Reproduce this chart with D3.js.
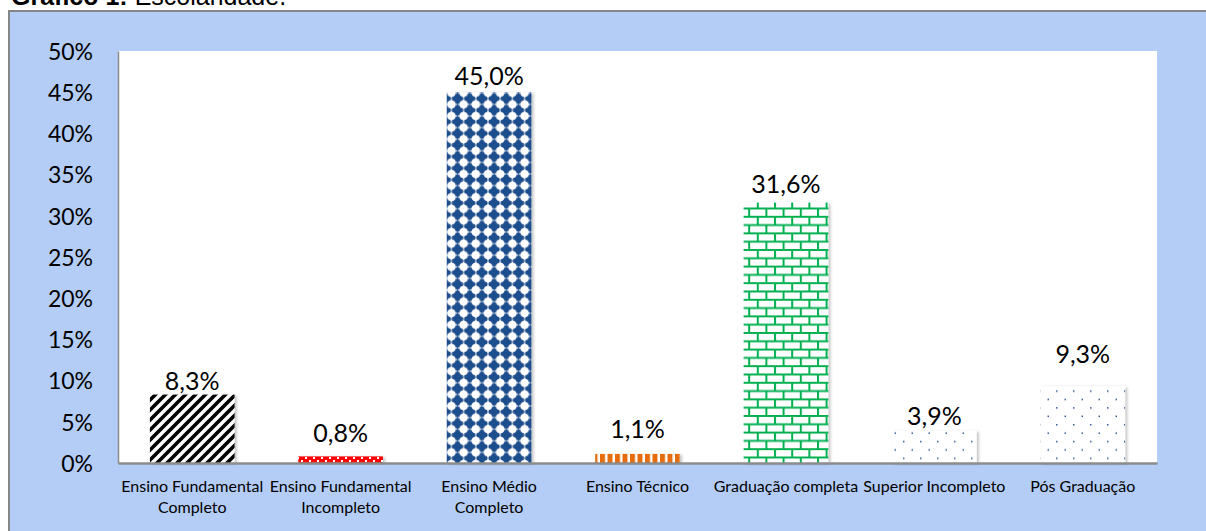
<!DOCTYPE html>
<html><head><meta charset="utf-8">
<script src="https://cdn.jsdelivr.net/npm/d3@7"></script>
<style>
html,body{margin:0;padding:0;background:#fff;}
svg{display:block;}
</style></head>
<body>
<svg id="chart" width="1206" height="531"></svg>
<script>
const titleBold = "Gráfico 1:";
const titleRest = " Escolaridade.";
const categories = ["Ensino Fundamental Completo","Ensino Fundamental Incompleto","Ensino Médio Completo","Ensino Técnico","Graduação completa","Superior Incompleto","Pós Graduação"];
const values = [8.3, 0.8, 45.0, 1.1, 31.6, 3.9, 9.3];
const valueLabels = ["8,3%","0,8%","45,0%","1,1%","31,6%","3,9%","9,3%"];
const yTicks = [0,5,10,15,20,25,30,35,40,45,50];
const patternIds = ["pStripe","pRed","pBlue","pOrange","pBrick","pDots","pDots"];
// layout: gap (px) between each bar top and its label baseline, as placed in the original
const labelGap = [5,14,7,16,10,6,23];

const svg = d3.select("#chart");
const W = 1206, H = 531;
const plot = {left:118, right:1157, top:51, bottom:463};
const bg = "#b4cdf7";
const font = "Lato, 'Open Sans', sans-serif";

svg.append("rect").attr("x",0).attr("y",0).attr("width",W).attr("height",H).attr("fill","#fff");
svg.append("rect").attr("x",9).attr("y",11).attr("width",W).attr("height",H).attr("fill",bg)
  .attr("stroke","#878787").attr("stroke-width",2);

const title = svg.append("text").attr("x",11).attr("y",5).attr("font-family","'Liberation Sans', Arial, sans-serif")
  .attr("font-size",25).attr("fill","#000");
title.append("tspan").attr("font-weight","bold").text(titleBold);
title.append("tspan").text(titleRest);

const defs = svg.append("defs");
const shadow = defs.append("filter").attr("id","shadow").attr("x","-10%").attr("y","-10%").attr("width","130%").attr("height","130%");
shadow.append("feDropShadow").attr("dx",2).attr("dy",1).attr("stdDeviation",1.5).attr("flood-color","#000").attr("flood-opacity",0.25);

let p = defs.append("pattern").attr("id","pStripe").attr("patternUnits","userSpaceOnUse").attr("width",10).attr("height",10);
p.append("rect").attr("width",10).attr("height",10).attr("fill","#fff");
p.append("path").attr("d","M-5,5 L5,-5 M0,10 L10,0 M5,15 L15,5").attr("stroke","#000").attr("stroke-width",3.6);

p = defs.append("pattern").attr("id","pRed").attr("patternUnits","userSpaceOnUse").attr("width",8).attr("height",6);
p.append("rect").attr("width",8).attr("height",6).attr("fill","#ff0000");
p.append("rect").attr("x",1).attr("y",1).attr("width",2).attr("height",2).attr("fill","#fff");
p.append("rect").attr("x",5).attr("y",4).attr("width",2).attr("height",2).attr("fill","#fff");

p = defs.append("pattern").attr("id","pBlue").attr("patternUnits","userSpaceOnUse").attr("width",12.2).attr("height",11.6);
p.append("rect").attr("width",12.2).attr("height",11.6).attr("fill","#fff");
p.append("path").attr("d","M6.1,0 L12.2,5.8 L6.1,11.6 L0,5.8 Z").attr("fill","#1f4e8c");
p.append("rect").attr("x",4.1).attr("y",0.6).attr("width",4).attr("height",10.4).attr("fill","#1f4e8c");
p.append("rect").attr("x",0.8).attr("y",3.8).attr("width",10.6).attr("height",4).attr("fill","#1f4e8c");

p = defs.append("pattern").attr("id","pOrange").attr("patternUnits","userSpaceOnUse").attr("width",7.5).attr("height",10);
p.append("rect").attr("width",7.5).attr("height",10).attr("fill","#fff");
p.append("rect").attr("x",0).attr("width",5).attr("height",10).attr("fill","#e46c0a");

p = defs.append("pattern").attr("id","pBrick").attr("patternUnits","userSpaceOnUse").attr("width",17.2).attr("height",16.6);
p.append("rect").attr("width",17.2).attr("height",16.6).attr("fill","#fff");
p.append("path").attr("d","M0,1 H17.2 M0,9.3 H17.2 M1,1 V9.3 M9.6,9.3 V16.6")
  .attr("stroke","#00b050").attr("stroke-width",2).attr("fill","none");

p = defs.append("pattern").attr("id","pDots").attr("patternUnits","userSpaceOnUse").attr("width",17).attr("height",16.8);
p.append("rect").attr("width",17).attr("height",16.8).attr("fill","#fff");
p.append("rect").attr("x",2).attr("y",4).attr("width",1.5).attr("height",1.5).attr("fill","#2f5597");
p.append("rect").attr("x",10.5).attr("y",12.4).attr("width",1.5).attr("height",1.5).attr("fill","#2f5597");

svg.append("rect").attr("x",plot.left).attr("y",plot.top).attr("width",plot.right-plot.left)
  .attr("height",plot.bottom-plot.top).attr("fill","#fff");

const x = d3.scaleBand().domain(categories).range([plot.left,plot.right]).paddingInner(0.43).paddingOuter(0.215);
const y = d3.scaleLinear().domain([0,50]).range([plot.bottom,plot.top]);

svg.append("g").selectAll("rect").data(categories).join("rect")
  .attr("x",d=>x(d)).attr("width",x.bandwidth())
  .attr("y",(d,i)=>y(values[i])).attr("height",(d,i)=>y(0)-y(values[i]))
  .attr("fill",(d,i)=>`url(#${patternIds[i]})`).attr("filter","url(#shadow)");

svg.append("g").selectAll("text").data(categories).join("text")
  .attr("x",d=>x(d)+x.bandwidth()/2).attr("y",(d,i)=>y(values[i])-labelGap[i])
  .attr("text-anchor","middle").attr("font-family",font).attr("font-size",25).attr("fill","#000")
  .text((d,i)=>valueLabels[i]);

const yAxis = d3.axisLeft(y).tickValues(yTicks).tickSize(0).tickPadding(25).tickFormat(d=>d+"%");
const gy = svg.append("g").attr("transform",`translate(${plot.left},0)`).call(yAxis);
gy.select(".domain").attr("stroke","#8c8c8c").attr("stroke-width",1.5);
gy.selectAll("text").attr("font-family",font).attr("font-size",23).attr("fill","#000").attr("dy","0.36em");

const xAxis = d3.axisBottom(x).tickSize(0).tickPadding(0);
const gx = svg.append("g").attr("transform",`translate(0,${plot.bottom})`).call(xAxis);
gx.select(".domain").attr("stroke","#8c8c8c").attr("stroke-width",2.5);
gx.selectAll("text").attr("font-family",font).attr("font-size",16).attr("fill","#000")
  .attr("dy",null).attr("y",29)
  .each(function(d){
    const t = d3.select(this);
    const words = d.split(" ");
    t.text(null);
    let line = [], lines = [];
    let tsp = t.append("tspan").attr("x",0).attr("y",29);
    for (const w of words) {
      line.push(w);
      tsp.text(line.join(" "));
      if (tsp.node().getComputedTextLength() > x.step()+2 && line.length>1) {
        line.pop(); tsp.text(line.join(" "));
        lines.push(line.join(" "));
        line=[w];
        tsp = t.append("tspan").attr("x",0).attr("y",29+21*lines.length).text(w);
      }
    }
  });
</script>
</body></html>
